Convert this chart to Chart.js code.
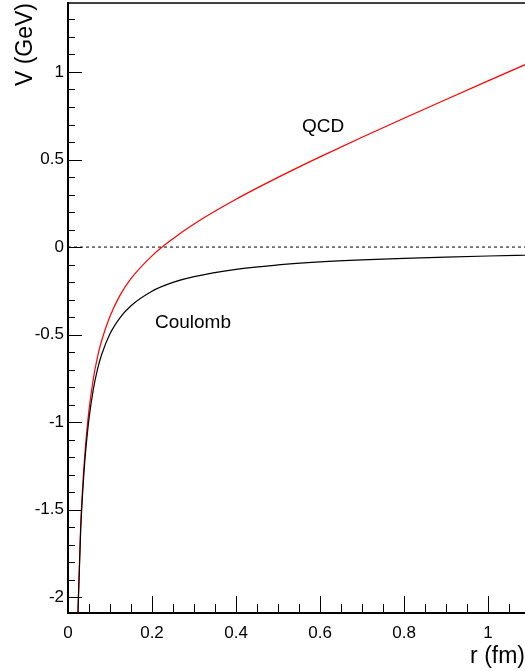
<!DOCTYPE html>
<html lang="en">
<head>
  <meta charset="UTF-8">
  <title>Potential</title>
  <style>
    html, body { margin: 0; padding: 0; background: #fff; overflow: hidden; }
    canvas { display: block; }
  </style>
</head>
<body>

  <canvas id="potChart" width="525" height="671"></canvas>

  <script src="https://cdn.jsdelivr.net/npm/chart.js"></script>
  <script>
    // r in fm, V in GeV
    const rValues = [0.022, 0.03, 0.035, 0.04, 0.045, 0.05, 0.06, 0.07, 0.08, 0.1, 0.125, 0.15, 0.2, 0.25, 0.3, 0.4, 0.5, 0.6, 0.7, 0.8, 0.9, 1.0, 1.1];
    const qcdValues = [-2.21, -1.60, -1.365, -1.185, -1.045, -0.93, -0.757, -0.63, -0.535, -0.395, -0.27, -0.18, -0.05, 0.048, 0.132, 0.273, 0.398, 0.515, 0.627, 0.736, 0.843, 0.949, 1.054];
    const coulombValues = [-2.23, -1.63, -1.40, -1.225, -1.09, -0.98, -0.817, -0.70, -0.615, -0.495, -0.40, -0.335, -0.252, -0.202, -0.169, -0.127, -0.102, -0.085, -0.073, -0.064, -0.057, -0.051, -0.046];
    const zeroLine = [0, 0];

    const xMin = 0, xMax = 1.088;
    const yMin = -2.09, yMax = 1.394;
    const xLabelTicks = [0, 0.2, 0.4, 0.6, 0.8, 1];
    const yLabelTicks = [-2, -1.5, -1, -0.5, 0, 0.5, 1];

    const FONT = '"Liberation Sans", Arial, Helvetica, sans-serif';

    const toPoints = (xs, ys) => xs.map((x, i) => ({ x: x, y: ys[i] }));
    const isOn = (list, v) => list.some(t => Math.abs(t - v) < 1e-6);
    const onStep = (v, step) => Math.abs(v / step - Math.round(v / step)) < 1e-6;

    // ROOT-style frame: ticks inside the frame, top edge line, curve labels
    const framePlugin = {
      id: 'framePlugin',
      afterDatasetsDraw: (chart) => {
        const ctx = chart.ctx;
        const area = chart.chartArea;
        const xs = chart.scales.x;
        const ys = chart.scales.y;

        ctx.save();
        ctx.strokeStyle = '#000';
        ctx.lineWidth = 1;

        ys.ticks.forEach(t => {
          if (!onStep(t.value, 0.1)) return;
          const y = Math.round(ys.getPixelForValue(t.value)) + 0.5;
          const len = isOn(yLabelTicks, t.value) ? 14 : 7;
          ctx.beginPath();
          ctx.moveTo(area.left, y);
          ctx.lineTo(area.left + len, y);
          ctx.stroke();
        });

        xs.ticks.forEach(t => {
          if (!onStep(t.value, 0.05) || t.value === 0) return;
          const x = Math.round(xs.getPixelForValue(t.value)) + 0.5;
          const len = isOn(xLabelTicks, t.value) ? 17 : 9;
          ctx.beginPath();
          ctx.moveTo(x, area.bottom);
          ctx.lineTo(x, area.bottom - len);
          ctx.stroke();
        });

        // top edge of the frame
        ctx.lineWidth = 1.5;
        ctx.beginPath();
        ctx.moveTo(area.left, area.top);
        ctx.lineTo(area.right, area.top);
        ctx.stroke();

        // curve names
        ctx.fillStyle = '#000';
        ctx.font = '19px ' + FONT;
        ctx.textAlign = 'left';
        ctx.textBaseline = 'alphabetic';
        ctx.fillText('QCD', xs.getPixelForValue(0.557), ys.getPixelForValue(0.657));
        ctx.fillText('Coulomb', xs.getPixelForValue(0.207), ys.getPixelForValue(-0.463));
        ctx.restore();
      }
    };

    const ctx = document.getElementById('potChart').getContext('2d');

    const potChart = new Chart(ctx, {
      type: 'line',
      data: {
        datasets: [
          {
            label: 'zero',
            data: toPoints([xMin, xMax], zeroLine),
            borderColor: '#000',
            borderWidth: 1,
            borderDash: [3, 3],
            pointRadius: 0,
            fill: false
          },
          {
            label: 'Coulomb',
            data: toPoints(rValues, coulombValues),
            borderColor: '#000',
            borderWidth: 1.2,
            pointRadius: 0,
            cubicInterpolationMode: 'monotone',
            fill: false
          },
          {
            label: 'QCD',
            data: toPoints(rValues, qcdValues),
            borderColor: '#ff0000',
            borderWidth: 1.2,
            pointRadius: 0,
            cubicInterpolationMode: 'monotone',
            fill: false
          }
        ]
      },
      options: {
        responsive: false,
        animation: false,
        layout: {
          padding: { top: 3, right: 0, bottom: 0, left: 0 }
        },
        plugins: {
          legend: { display: false },
          tooltip: { enabled: false }
        },
        scales: {
          x: {
            type: 'linear',
            min: xMin,
            max: xMax,
            grid: { display: false, drawTicks: false },
            border: { display: true, color: '#000', width: 2 },
            ticks: {
              stepSize: 0.05,
              includeBounds: false,
              autoSkip: false,
              maxRotation: 0,
              padding: 10,
              color: '#000',
              font: { family: FONT, size: 17 },
              callback: (v) => isOn(xLabelTicks, v) ? String(Math.round(v * 10) / 10) : ''
            },
            title: {
              display: true,
              text: 'r (fm)',
              align: 'end',
              color: '#000',
              font: { family: FONT, size: 23 },
              padding: { top: 0, bottom: 1 }
            },
            afterFit: (scale) => {
              scale.height = 58;
              scale.paddingLeft = 0;
              scale.paddingRight = 0;
            }
          },
          y: {
            type: 'linear',
            min: yMin,
            max: yMax,
            grid: { display: false, drawTicks: false },
            border: { display: true, color: '#000', width: 2 },
            ticks: {
              stepSize: 0.1,
              includeBounds: false,
              autoSkip: false,
              padding: 4,
              color: '#000',
              font: { family: FONT, size: 17 },
              callback: (v) => isOn(yLabelTicks, v) ? String(Math.round(v * 10) / 10) : ''
            },
            title: {
              display: true,
              text: 'V (GeV)',
              align: 'end',
              color: '#000',
              font: { family: FONT, size: 23 },
              padding: { top: 12, bottom: 0 }
            },
            afterFit: (scale) => {
              scale.width = 68;
              scale.paddingTop = 0;
              scale.paddingBottom = 0;
            }
          }
        }
      },
      plugins: [framePlugin]
    });
  </script>

</body>
</html>
